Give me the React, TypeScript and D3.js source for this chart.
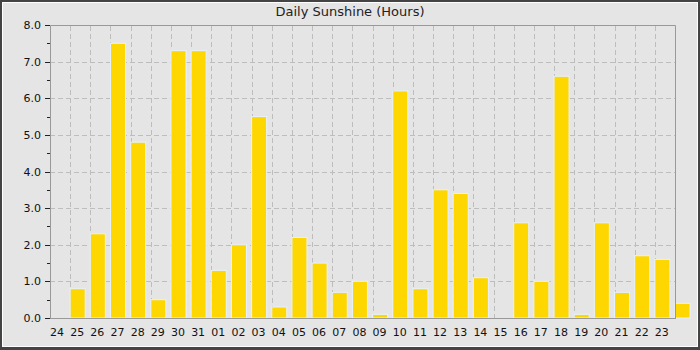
import React from "react";
import * as d3 from "d3";

const dayLabels = ["24","25","26","27","28","29","30","31","01","02","03","04","05","06","07","08","09","10","11","12","13","14","15","16","17","18","19","20","21","22","23"];
const sunshineHours = [0, 0.8, 2.3, 7.5, 4.8, 0.5, 7.3, 7.3, 1.3, 2.0, 5.5, 0.3, 2.2, 1.5, 0.7, 1.0, 0.1, 6.2, 0.8, 3.5, 3.4, 1.1, 0, 2.6, 1.0, 6.6, 0.1, 2.6, 0.7, 1.7, 1.6, 0.4];
const yMajorTicks = [0, 1, 2, 3, 4, 5, 6, 7, 8];
const yMinorTicks = [0.5, 1.5, 2.5, 3.5, 4.5, 5.5, 6.5, 7.5];
const title = "Daily Sunshine (Hours)";

const W = 700, H = 350;
const left = 50, right = 675, top = 25, bottom = 318;

export default function App() {
  const x = d3.scaleLinear().domain([0, dayLabels.length]).range([left, right]);
  const y = d3.scaleLinear().domain([0, 8]).range([bottom, top]);
  const step = x(1) - x(0);
  const bw = step * 0.745;
  const font = "DejaVu Sans, sans-serif";
  const grid = "#bdbdbd";
  const axisCol = "#999";
  return (
    <svg width={W} height={H} style={{ position: "absolute", left: 0, top: 0 }}>
      <rect x={0} y={0} width={W} height={H} fill="#444" />
      <rect x={2} y={2} width={696} height={345} fill="#fff" />
      <rect x={3} y={3} width={694} height={343} fill="#e5e5e5" />
      <text x={350} y={16} textAnchor="middle" fontFamily={font} fontSize={13} fill="#222">{title}</text>
      {/* grid */}
      {yMajorTicks.filter(t => t > 0 && t < 8).map(t => (
        <line key={"hg" + t} x1={left} x2={right} y1={Math.round(y(t)) + 0.5} y2={Math.round(y(t)) + 0.5} stroke={grid} strokeDasharray="5,3" />
      ))}
      {d3.range(1, dayLabels.length).map(i => (
        <line key={"vg" + i} x1={Math.round(x(i)) + 0.5} x2={Math.round(x(i)) + 0.5} y1={top + 1} y2={bottom} stroke={grid} strokeDasharray="5,3" />
      ))}
      {/* bars */}
      {sunshineHours.map((v, i) => v > 0 ? (
        <rect key={"b" + i} x={x(i)} y={y(v)} width={bw} height={y(0) - y(v)} fill="#FFD700" stroke="#e6f2ff" strokeWidth={1} />
      ) : null)}
      {/* plot frame */}
      <path d={`M${left + 0.5},${bottom + 0.5}V${top + 0.5}H${right + 0.5}V${bottom + 0.5}`} fill="none" stroke={axisCol} />
      <line x1={left} x2={right + 1} y1={bottom + 0.5} y2={bottom + 0.5} stroke={axisCol} />
      {/* y ticks */}
      {yMajorTicks.map(t => (
        <g key={"yt" + t}>
          <line x1={left - 5} x2={left} y1={Math.round(y(t)) + 0.5} y2={Math.round(y(t)) + 0.5} stroke="#222" />
          <text x={41} y={y(t) + 4} textAnchor="end" fontFamily={font} fontSize={11} fill="#111">{t.toFixed(1)}</text>
        </g>
      ))}
      {yMinorTicks.map(t => (
        <line key={"ym" + t} x1={left - 3} x2={left} y1={Math.round(y(t)) + 0.5} y2={Math.round(y(t)) + 0.5} stroke="#222" />
      ))}
      {/* x labels */}
      {dayLabels.map((d, i) => (
        <text key={"xl" + i} x={x(i) + 7} y={336} textAnchor="middle" fontFamily={font} fontSize={11} fill="#111">{d}</text>
      ))}
    </svg>
  );
}
